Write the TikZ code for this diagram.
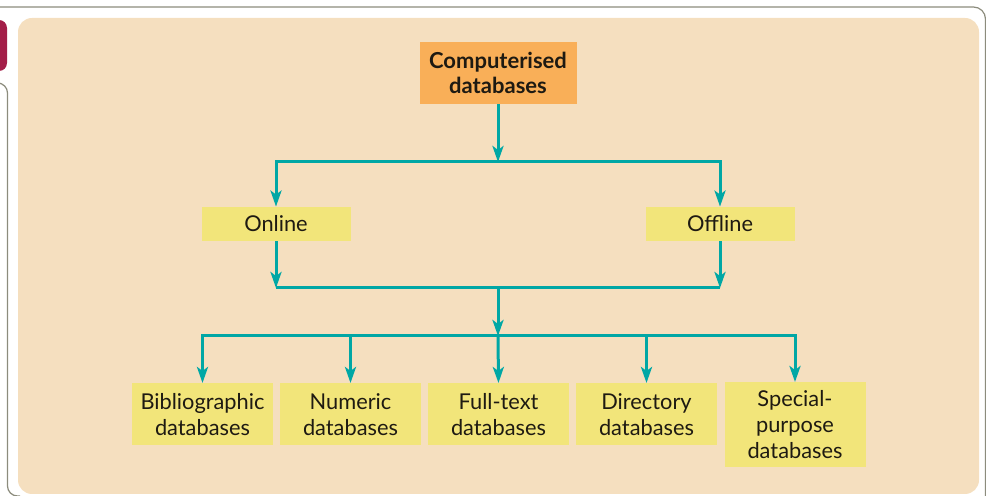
\documentclass[tikz,border=0pt]{standalone}
\usepackage{fontspec}
\setmainfont{Lato}
\usetikzlibrary{positioning,arrows.meta}
\definecolor{panelcolor}{RGB}{245,223,191}
\definecolor{headcolor}{RGB}{249,175,88}
\definecolor{elemcolor}{RGB}{242,229,122}
\definecolor{linkcolor}{RGB}{0,167,165}
\definecolor{tabcolor}{RGB}{163,30,72}
\definecolor{framecolor}{RGB}{140,140,125}
\definecolor{textcolor}{RGB}{30,26,18}

\begin{document}
\begin{tikzpicture}[%
    x=0.5pt, y=-0.5pt,          % one unit is one pixel of the layout
    >={Stealth[length=8pt,width=5.5pt,inset=2pt]},
    node distance=75.5pt and 111pt,
    ]
\tikzset{
  base/.style={align=center, inner xsep=0pt, inner ysep=4pt, text=textcolor,
    font=\fontsize{10.9}{13}\selectfont},
  head/.style={base, fill=headcolor, minimum width=78.5pt, minimum height=31pt,
    font=\bfseries\fontsize{11}{12.5}\selectfont},
  mode/.style={base, fill=elemcolor, minimum width=74.5pt, minimum height=17pt},
  kind/.style={base, fill=elemcolor, text width=70.5pt, minimum height=31pt, anchor=north},
  link/.style={draw=linkcolor, line width=1.5pt},
}
\useasboundingbox (0,0) rectangle (986,496);

% frame and panel
\draw [framecolor, line width=0.6pt, rounded corners=6pt] (0,7) -- (985.5,7) -- (985.5,510);
\draw [framecolor, line width=0.6pt, rounded corners=5pt] (0,83) -- (7.5,83) -- (7.5,496) -- (20,496);
\fill [tabcolor, rounded corners=4pt] (-12,20) rectangle (7,71);
\fill [panelcolor, rounded corners=7pt] (18,18) rectangle (979,494);

\node [head] (top) at (498,73) {Computerised\\databases};

\node [mode, on grid, below left=of top] (online) {Online};
\node [mode, on grid, below right=of top] (offline) {Offline};

\node [kind] (biblio) at (202.5,383) {Bibliographic\\databases};
\node [kind] (numeric) at (350.5,383) {Numeric\\databases};
\node [kind] (fulltext) at (498.5,383) {Full-text\\databases};
\node [kind] (directory) at (646.5,383) {Directory\\databases};
\node [kind] (special) at (795,382) {Special-\\purpose\\databases};

\coordinate (busA) at (498,162);
\coordinate (busB) at (498,288);
\coordinate (busC) at (498,336);
\coordinate (busBl) at (online |- busB);
\coordinate (busBr) at (offline |- busB);

%connect
\draw [link,->] (top.south) -- (busA);
\draw [link,->] (busA) -| (online.north);
\draw [link,->] (busA) -| (offline.north);
\draw [link,->] (online.south) -- (busBl);
\draw [link,->] (offline.south) -- (busBr);
\draw [link] (busBl) -- (busBr);
\draw [link,->] (busB) -- (busC);
\draw [link,->] (busC) -| (biblio.north);
\draw [link,->] (busC) -| (numeric.north);
\draw [link,->] (busC) -- (fulltext.north);
\draw [link,->] (busC) -| (directory.north);
\draw [link,->] (busC) -| (special.north);

\end{tikzpicture}
\end{document}
